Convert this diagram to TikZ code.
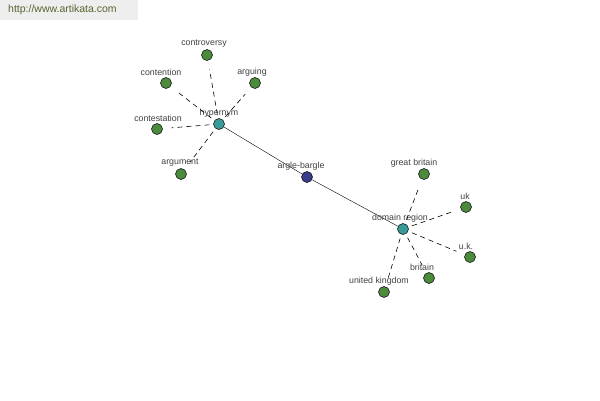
\documentclass[tikz,border=0pt]{standalone}
\usepackage{fontspec}
\setmainfont{Liberation Sans}
\usetikzlibrary{calc}
\definecolor{leafgreen}{HTML}{4C8A3C}
\definecolor{hubteal}{HTML}{3A9A98}
\definecolor{rootblue}{HTML}{3C3C8C}
\definecolor{urlgreen}{HTML}{55652F}
\definecolor{bargray}{HTML}{EEEEEE}
\tikzset{
  word/.style={circle,draw=black,line width=0.5pt,inner sep=0pt,minimum size=11pt},
  leaf/.style={word,fill=leafgreen},
  hub/.style={word,fill=hubteal},
  root/.style={word,fill=rootblue},
  tag/.style={font=\fontsize{8.8}{10}\selectfont,text=black!75,inner sep=0pt},
  rel/.style={dashed,dash pattern=on 5pt off 4pt,line width=0.6pt,shorten <=4pt,shorten >=9pt}
}
\begin{document}
\begin{tikzpicture}[x=1pt,y=-1pt]
                      \useasboundingbox (0,0) rectangle (600,400);
                      \fill[bargray] (0,0) rectangle (138,20);
                      \node[anchor=west,font=\fontsize{10.5}{12}\selectfont,text=urlgreen,inner sep=0pt] (url) at (8,10) {http://www.artikata.com};
                      % hubs and root
                      \node[root] (argle) at (307,177) {};
                      \node[hub] (hypernym) at (219,124) {};
                      \node[hub] (domain) at (403,229) {};
                      \draw (hypernym) -- (argle) -- (domain);
                      \node[tag] at (219,113) {hypernym};
                      \node[tag] at (301,166) {argle-bargle};
                      \node[tag] at (400,218) {domain region};
                      % leaves of hypernym
                      \foreach \name/\x/\y/\tx/\ty/\txt in {controversy/207/55/204/44/controversy,
                        contention/166/83/161/72/contention,
                        arguing/255/83/252/72/arguing,
                        contestation/157/129/158/118/contestation,
                        argument/181/174/180/163/argument}{
                        \node[leaf] (\name) at (\x,\y) {};
                        \node[tag] at (\tx,\ty) {\txt};
                        \draw[rel] (hypernym) -- (\name);
                      }
                      % leaves of domain region
                      \foreach \name/\x/\y/\tx/\ty/\txt in {greatbritain/424/174/414/163/great britain,
                        uk/466/207/465/196/uk,
                        ukdots/470/257/466/246/u.k.,
                        britain/429/278/422/267/britain,
                        unitedkingdom/384/292/379/281/united kingdom}{
                        \node[leaf] (\name) at (\x,\y) {};
                        \node[tag] at (\tx,\ty) {\txt};
                        \draw[rel] (domain) -- (\name);
                      }
                  \end{tikzpicture}
\end{document}
